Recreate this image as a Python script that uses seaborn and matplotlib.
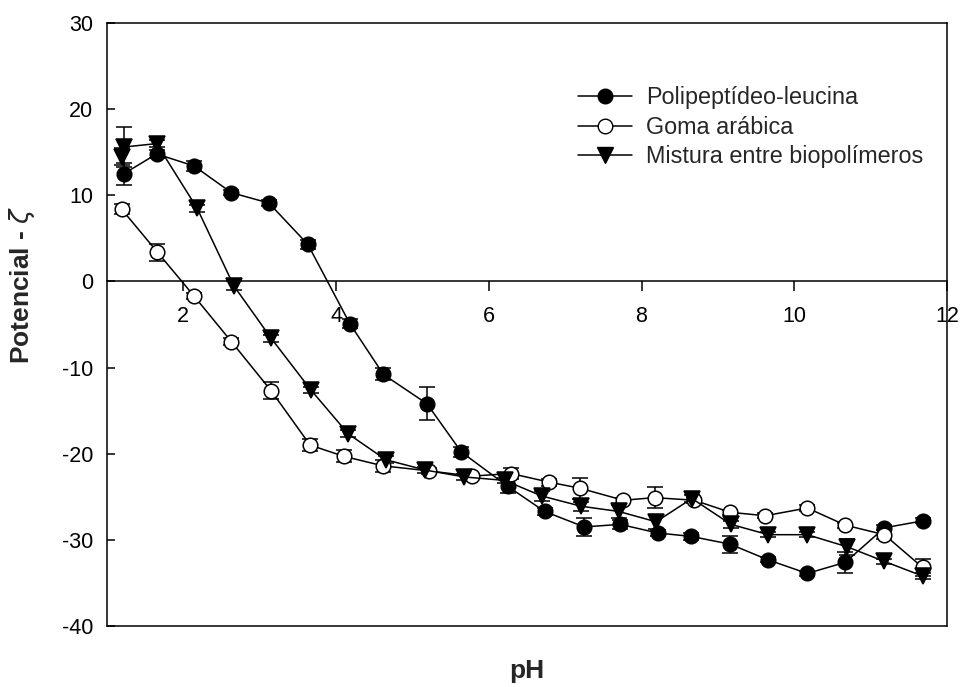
import numpy as np
import pandas as pd
import matplotlib
matplotlib.use("Agg")
import matplotlib.pyplot as plt
from matplotlib.lines import Line2D
import seaborn as sns

# ---- data ----
ph_poli = [1.22, 1.65, 2.14, 2.63, 3.12, 3.63, 4.18, 4.62, 5.19, 5.64, 6.25,
           6.73, 7.25, 7.72, 8.21, 8.65, 9.16, 9.65, 10.17, 10.67, 11.18, 11.68]
z_poli = [12.5, 14.8, 13.4, 10.3, 9.1, 4.3, -4.9, -10.8, -14.2, -19.8, -23.8,
          -26.7, -28.5, -28.2, -29.2, -29.6, -30.5, -32.3, -33.9, -32.6, -28.6, -27.8]
e_poli = [1.3, 0.5, 0.6, 0.3, 0.4, 0.5, 0.5, 0.7, 1.9, 0.6, 0.8,
          0.4, 1.0, 0.5, 0.3, 0.4, 1.0, 0.3, 0.3, 1.2, 0.3, 0.3]

ph_goma = [1.19, 1.66, 2.14, 2.63, 3.15, 3.66, 4.10, 4.61, 5.22, 5.78, 6.29,
           6.79, 7.19, 7.76, 8.17, 8.69, 9.16, 9.62, 10.17, 10.67, 11.18, 11.68]
z_goma = [8.4, 3.4, -1.7, -7.0, -12.7, -19.0, -20.3, -21.4, -22.0, -22.6, -22.3,
          -23.3, -24.0, -25.4, -25.1, -25.4, -26.8, -27.2, -26.3, -28.3, -29.4, -33.2]
e_goma = [0.6, 1.0, 0.3, 0.4, 1.0, 0.7, 0.7, 0.7, 0.3, 0.3, 0.6,
          0.4, 1.2, 0.3, 1.2, 0.3, 0.3, 0.3, 0.4, 0.3, 0.5, 1.0]

ph_mist = [1.20, 1.22, 1.65, 2.18, 2.66, 3.15, 3.67, 4.16, 4.65, 5.17, 5.68, 6.21,
           6.69, 7.21, 7.70, 8.19, 8.66, 9.17, 9.66, 10.17, 10.69, 11.18, 11.68]
z_mist = [14.5, 15.6, 16.0, 8.5, -0.5, -6.6, -12.6, -17.7, -20.7, -21.9, -22.7, -23.1,
          -24.9, -26.1, -26.7, -27.9, -25.2, -28.2, -29.4, -29.4, -30.8, -32.5, -34.2]
e_mist = [1.0, 2.3, 0.4, 0.4, 0.5, 0.4, 0.4, 0.4, 0.4, 0.3, 0.3, 0.3,
          0.6, 0.5, 0.8, 0.8, 0.4, 0.4, 0.3, 0.3, 0.9, 0.3, 0.4]

series_names = ["Polipeptídeo-leucina", "Goma arábica", "Mistura entre biopolímeros"]
x_ticks = [2, 4, 6, 8, 10, 12]
y_ticks = [-40, -30, -20, -10, 0, 10, 20, 30]

# ---- style ----
sns.set_style("ticks")
plt.rcParams["font.family"] = ["Liberation Sans", "DejaVu Sans"]
plt.rcParams["axes.unicode_minus"] = False

fig = plt.figure(figsize=(9.62, 6.87), dpi=100)
ax = fig.add_axes([107 / 962, 61 / 687, 840 / 962, 603 / 687])

styles = [
    dict(marker="o", mfc="black", ms=10.5),
    dict(marker="o", mfc="white", ms=10.5),
    dict(marker="v", mfc="black", ms=11.5),
]
data = [(ph_poli, z_poli, e_poli), (ph_goma, z_goma, e_goma), (ph_mist, z_mist, e_mist)]

for (xs, ys, es), st, name in zip(data, styles, series_names):
    ax.errorbar(xs, ys, yerr=es, fmt="none", ecolor="black", elinewidth=1.1,
                capsize=6, capthick=1.1, zorder=2)
    df = pd.DataFrame({"pH": xs, "zeta": ys})
    sns.lineplot(data=df, x="pH", y="zeta", ax=ax, color="black", lw=1.1,
                 marker=st["marker"], markersize=st["ms"], markerfacecolor=st["mfc"],
                 markeredgecolor="black", markeredgewidth=1.1, sort=False,
                 estimator=None, zorder=3, legend=False)

ax.set_xlim(1, 12)
ax.set_ylim(-40, 30)
ax.set_xticks(x_ticks)
ax.set_yticks(y_ticks)

for sp in ax.spines.values():
    sp.set_linewidth(1.1)
    sp.set_color("black")
ax.spines["bottom"].set_position(("data", 0))
# bottom frame line of the box
ax.plot([0, 1], [0, 0], transform=ax.transAxes, color="black", lw=1.1, clip_on=False)

ax.tick_params(axis="x", direction="out", length=7, width=1.1, pad=11,
               labelsize=15.5, colors="black")
ax.tick_params(axis="y", direction="in", length=6, width=1.1, pad=10,
               labelsize=15.5, colors="black")

ax.set_xlabel("pH", fontsize=19, fontweight="bold")
ax.set_ylabel("Potencial - $\\zeta$", fontsize=19, fontweight="bold")
ax.xaxis.set_label_coords(0.5, -0.055)
ax.yaxis.set_label_coords(-0.083, 0.565)

handles = [
    Line2D([], [], color="black", lw=1.1, marker="o", ms=10.5, mfc="black", mec="black"),
    Line2D([], [], color="black", lw=1.1, marker="o", ms=10.5, mfc="white", mec="black"),
    Line2D([], [], color="black", lw=1.1, marker="v", ms=11.5, mfc="black", mec="black"),
]
ax.legend(handles, series_names, loc="upper left", bbox_to_anchor=(0.561, 0.895),
          frameon=False, fontsize=16.8, handlelength=2.3, handletextpad=0.6,
          labelspacing=0.28, borderpad=0, borderaxespad=0)

fig.savefig("out.png", dpi=100)
